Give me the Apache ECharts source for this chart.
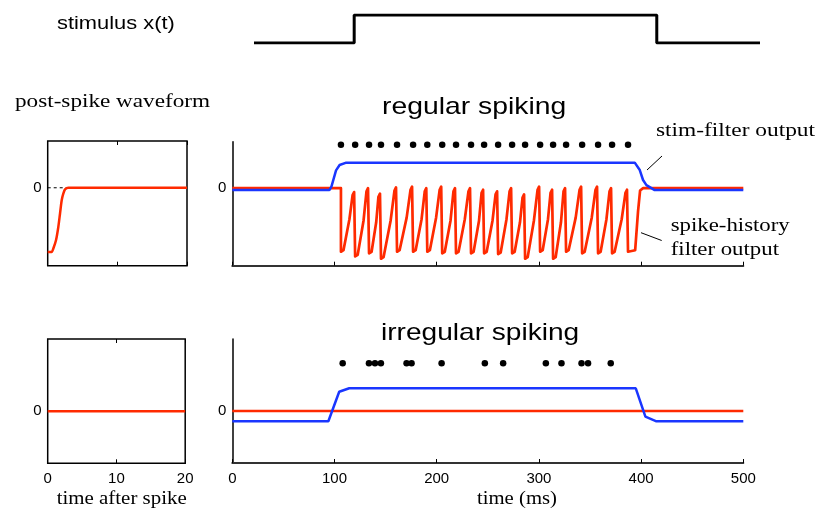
<!DOCTYPE html>
<html><head><meta charset="utf-8">
<script src="https://cdn.jsdelivr.net/npm/echarts@6/dist/echarts.min.js"></script>
<style>html,body{margin:0;padding:0;background:#fff}#c{width:821px;height:513px}</style>
</head><body><div id="c"></div>
<script>
// ---- data ----
const stimT = [0, 19.8, 19.8, 79.6, 79.6, 100];
const stimV = [0, 0, 1, 1, 0, 0];

// post-spike waveform (time after spike, ms) -- regular neuron
const kernelT = [0, 0.57, 0.81, 1.2, 1.53, 1.77, 2.01, 2.25, 2.49, 2.97, 20];
const kernelV = [-4.12, -4.12, -3.9, -3.35, -2.5, -1.65, -0.8, -0.36, -0.1, 0, 0];
// irregular neuron waveform
const kernel2T = [0, 20];
const kernel2V = [0, 0];

// spike times (ms)
const regSpikes = [106.3, 120.2, 133.8, 145.5, 161.2, 176.9, 190.8, 205.4, 218.9, 233.6, 246.4,
  260.1, 273.8, 286.5, 301.2, 313.9, 326.6, 342.3, 357.9, 371.6, 387.2];
const irrSpikes = [108, 133.7, 139.6, 145.4, 170.5, 175.4, 204.8, 247.1, 265, 306.8, 322.1,
  341.7, 348.1, 370.3];
const regDotLevel = 2.8;
const irrDotLevel = 0.917;

// stim-filter output, regular panel
const regStimT = [0, 95, 97, 101.5, 105, 111.5, 393.8, 398.7, 401.9, 405.2, 413.3, 500];
const regStimV = [-0.12, -0.12, 0.1, 1.15, 1.5, 1.65, 1.65, 1.17, 0.53, 0.2, -0.12, -0.12];

// spike-history filter output, regular panel  [t, value]
const regHist = [
  [0, 0], [106.3, 0],
  [106.3, -4.1], [108.8, -4.0], [114.6, -2.0], [117.7, -0.45], [119.2, -0.25], [120.2, -0.25],
  [120.2, -4.4], [122.7, -4.3], [128.4, -2.1], [131.3, -0.2], [132.8, 0], [133.8, 0],
  [133.8, -4.2], [136.3, -4.1], [140.8, -2.2], [143, -0.55], [144.5, -0.35], [145.5, -0.35],
  [145.5, -4.55], [148, -4.45], [154.9, -2.1], [158.7, -0.15], [160.2, 0.05], [161.2, 0.05],
  [161.2, -4.1], [163.7, -4.0], [170.6, -1.9], [174.4, -0.1], [175.9, 0.1], [176.9, 0.1],
  [176.9, -4.1], [179.4, -4.0], [185.2, -2], [188.3, -0.2], [189.8, 0], [190.8, 0],
  [190.8, -4.1], [193.3, -4.0], [199.4, -1.9], [202.9, -0.1], [204.4, 0.1], [205.4, 0.1],
  [205.4, -4.2], [207.9, -4.1], [213.5, -2.1], [216.4, -0.2], [217.9, 0], [218.9, 0],
  [218.9, -4.2], [221.4, -4.1], [227.5, -2.0], [231.1, -0.2], [232.6, 0], [233.6, 0],
  [233.6, -4.2], [236.1, -4.1], [241.4, -2.1], [243.9, -0.3], [245.4, -0.1], [246.4, -0.1],
  [246.4, -4.2], [248.9, -4.1], [254.6, -2.1], [257.6, -0.4], [259.1, -0.2], [260.1, -0.2],
  [260.1, -4.25], [262.6, -4.15], [268.3, -2.0], [271.3, -0.2], [272.8, 0], [273.8, 0],
  [273.8, -4.2], [276.3, -4.1], [281.5, -2.2], [284, -0.6], [285.5, -0.4], [286.5, -0.4],
  [286.5, -4.55], [289, -4.45], [295.1, -2.1], [298.7, -0.1], [300.2, 0.1], [301.2, 0.1],
  [301.2, -4.1], [303.7, -4.0], [308.9, -2.0], [311.4, -0.3], [312.9, -0.1], [313.9, -0.1],
  [313.9, -4.55], [316.4, -4.45], [321.6, -2.2], [324.1, -0.2], [325.6, 0], [326.6, 0],
  [326.6, -4.1], [329.1, -4.0], [336, -1.9], [339.8, -0.1], [341.3, 0.1], [342.3, 0.1],
  [342.3, -4.2], [344.8, -4.1], [351.7, -1.9], [355.4, -0.1], [356.9, 0.1], [357.9, 0.1],
  [357.9, -4.2], [360.4, -4.1], [366.1, -2.0], [369.1, -0.2], [370.6, 0], [371.6, 0],
  [371.6, -4.2], [374.1, -4.1], [381, -2.0], [384.7, -0.3], [386.2, -0.1], [387.2, -0.1],
  [387.2, -4.1], [394.2, -4.0], [397, -1.5], [399, -0.15], [402, 0], [500, 0]
];

// irregular panel
const irrStimT = [0, 94, 104.6, 114.4, 394.8, 404.2, 415, 500];
const irrStimV = [-0.198, -0.198, 0.371, 0.437, 0.437, -0.11, -0.198, -0.198];
const irrHistT = [0, 500];
const irrHistV = [0, 0];

// ---- chart ----
const zip = (a, b) => a.map((x, i) => [x, b[i]]);
const RED = '#ff2a00', BLUE = '#1a36ff';
const sans = 'Liberation Sans', serif = 'Liberation Serif';
const lbl = { fontFamily: sans, fontSize: 15, color: '#000' };
const zeroOnly = v => (v === 0 ? '0' : '');

function xAx(grid, min, max, interval, opts) {
  return Object.assign({
    gridIndex: grid, type: 'value', min, max, interval,
    axisLine: { show: false, onZero: false },
    axisTick: { show: true, inside: true, length: 4, lineStyle: { color: '#000', width: 1 } },
    axisLabel: { show: false },
    splitLine: { show: false }
  }, opts || {});
}
function yAx(grid, min, max, interval, line) {
  return {
    gridIndex: grid, type: 'value', min, max, interval,
    axisLine: { show: line, onZero: false, lineStyle: { color: '#000', width: 1.5 } },
    axisTick: { show: false },
    splitLine: { show: false },
    axisLabel: Object.assign({ formatter: zeroOnly, margin: 6 }, lbl)
  };
}
const boxGrid = { show: true, borderColor: '#000', borderWidth: 1.5, backgroundColor: 'transparent' };
const xLine = { show: true, onZero: false, lineStyle: { color: '#333', width: 2 } };

const option = {
  animation: false,
  backgroundColor: '#fff',
  grid: [
    { left: 254, top: 15, width: 506, height: 28 },
    Object.assign({ left: 47.7, top: 141, width: 139.3, height: 124.7 }, boxGrid),
    { left: 232.3, top: 141.7, width: 511, height: 124 },
    Object.assign({ left: 47.7, top: 339, width: 137.5, height: 124.3 }, boxGrid),
    { left: 232.3, top: 339, width: 511, height: 124 }
  ],
  xAxis: [
    { gridIndex: 0, type: 'value', min: 0, max: 100, show: false },
    xAx(1, 0, 20, 10),
    xAx(1, 0, 20, 10, { position: 'top' }),
    xAx(3, 0, 20, 10, { axisLabel: Object.assign({ show: true, margin: 8 }, lbl) }),
    xAx(3, 0, 20, 10, { position: 'top' }),
    xAx(2, 0, 500, 100, { axisLine: xLine }),
    xAx(4, 0, 500, 100, { axisLine: xLine, axisLabel: Object.assign({ show: true, margin: 8 }, lbl) })
  ],
  yAxis: [
    { gridIndex: 0, type: 'value', min: 0, max: 1, show: false },
    yAx(1, -5, 3, 5, false),
    yAx(2, -5, 3, 5, true),
    yAx(3, -1, 1.3846, 1, false),
    yAx(4, -1, 1.3846, 1, true)
  ],
  series: [
    { type: 'line', xAxisIndex: 0, yAxisIndex: 0, data: zip(stimT, stimV), symbol: 'none',
      lineStyle: { color: '#000', width: 3 }, z: 3 },
    // top-left
    { type: 'line', xAxisIndex: 1, yAxisIndex: 1, data: [[0, 0], [20, 0]], symbol: 'none',
      lineStyle: { color: '#000', width: 1, type: [3, 3] }, z: 2 },
    { type: 'line', xAxisIndex: 1, yAxisIndex: 1, data: zip(kernelT, kernelV), symbol: 'none',
      smooth: 0.25, lineStyle: { color: RED, width: 2.5 }, z: 3 },
    // bottom-left
    { type: 'line', xAxisIndex: 3, yAxisIndex: 3, data: zip(kernel2T, kernel2V), symbol: 'none',
      lineStyle: { color: RED, width: 2.5 }, z: 3 },
    // top-right
    { type: 'line', xAxisIndex: 5, yAxisIndex: 2, data: regHist, symbol: 'none',
      lineStyle: { color: RED, width: 2.7, join: 'round' }, z: 3 },
    { type: 'line', xAxisIndex: 5, yAxisIndex: 2, data: zip(regStimT, regStimV), symbol: 'none',
      lineStyle: { color: BLUE, width: 2.5 }, z: 4 },
    { type: 'scatter', xAxisIndex: 5, yAxisIndex: 2, data: regSpikes.map(t => [t, regDotLevel]),
      symbolSize: 6.5, itemStyle: { color: '#000', opacity: 1 }, z: 5 },
    // bottom-right
    { type: 'line', xAxisIndex: 6, yAxisIndex: 4, data: zip(irrHistT, irrHistV), symbol: 'none',
      lineStyle: { color: RED, width: 2.5 }, z: 3 },
    { type: 'line', xAxisIndex: 6, yAxisIndex: 4, data: zip(irrStimT, irrStimV), symbol: 'none',
      lineStyle: { color: BLUE, width: 2.5 }, z: 4 },
    { type: 'scatter', xAxisIndex: 6, yAxisIndex: 4, data: irrSpikes.map(t => [t, irrDotLevel]),
      symbolSize: 6.5, itemStyle: { color: '#000', opacity: 1 }, z: 5 }
  ],
  graphic: [
    txt('stimulus x(t)', 57, 24, sans, 19, 1.15),
    txt('post-spike waveform', 15, 102.5, serif, 19, 1.22),
    txt('regular spiking', 382, 107, sans, 24, 1.18),
    txt('irregular spiking', 381, 333, sans, 24, 1.17),
    txt('stim-filter output', 656, 131.5, serif, 19, 1.23),
    txt('spike-history', 670.7, 226.5, serif, 19, 1.2),
    txt('filter output', 670.7, 250.5, serif, 19, 1.2),
    txt('time (ms)', 477, 499, serif, 19, 1.09),
    txt('time after spike', 56.7, 499, serif, 19, 1.1),
    { type: 'line', shape: { x1: 647, y1: 170, x2: 662, y2: 156 }, style: { stroke: '#000', lineWidth: 1 } },
    { type: 'line', shape: { x1: 641, y1: 232.7, x2: 661.7, y2: 240.5 }, style: { stroke: '#000', lineWidth: 1 } }
  ]
};
function txt(s, x, y, fam, size, sx) {
  return { type: 'text', x, y, scaleX: sx, z: 10,
    style: { text: s, font: size + 'px "' + fam + '"', fill: '#000',
      align: 'left', verticalAlign: 'middle', textAlign: 'left', textVerticalAlign: 'middle' } };
}
const chart = echarts.init(document.getElementById('c'), null, { renderer: 'canvas' });
chart.setOption(option);
</script>
</body></html>
